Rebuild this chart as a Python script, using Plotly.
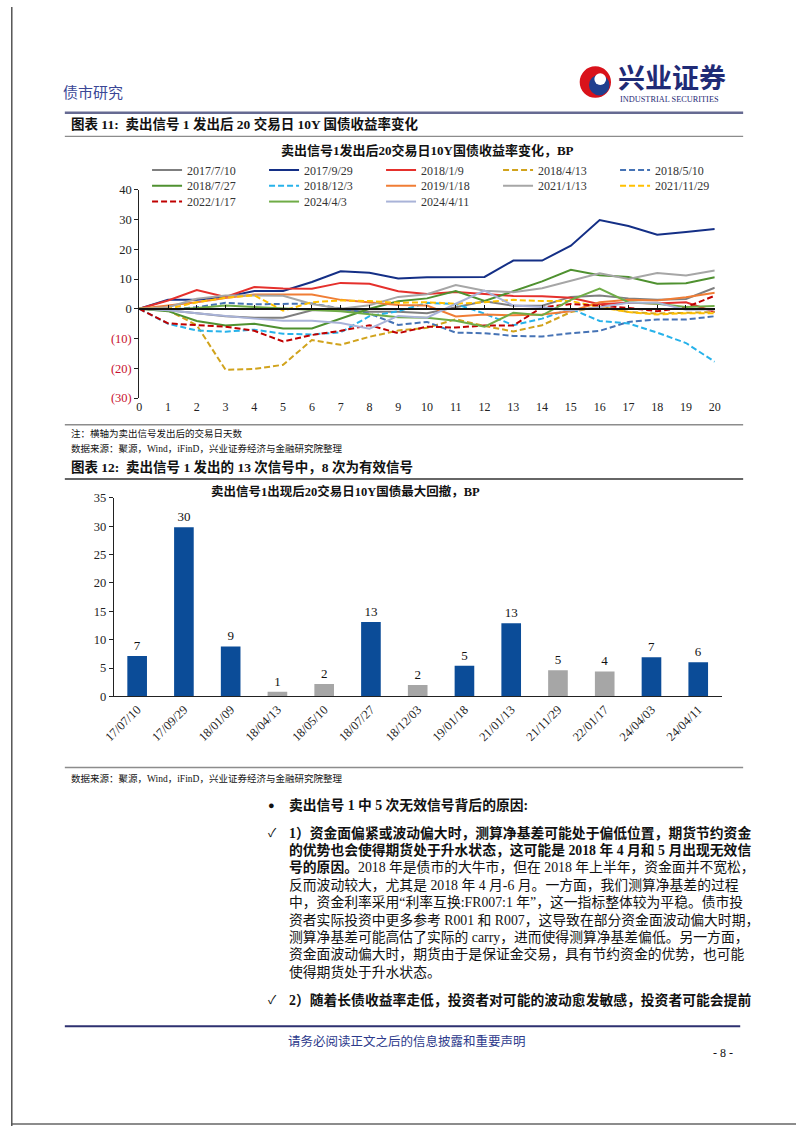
import plotly.graph_objects as go

W, H = 802, 1133


def px_x(x):
    return x / W


def px_y(y):
    return 1 - y / H


FONT = "Liberation Serif, Noto Sans CJK SC, serif"

# ---------------- line chart data ----------------
days = list(range(21))
s_2017_7_10 = [0, -0.5, -1.5, -2.5, -3.0, -3.0, -0.5, -0.5, -1.0, -1.0, -1.5, 0.5, 2.5, 1.0, 1.0, 4.0, 4.5, 3.5, 3.0, 3.3, 7.1]
s_2017_9_29 = [0, 3.0, 3.0, 4.0, 6.0, 6.0, 9.0, 12.6, 12.1, 10.2, 10.6, 10.7, 10.7, 16.2, 16.2, 21.2, 29.8, 27.8, 24.9, 25.8, 26.8]
s_2018_1_9 = [0, 2.8, 6.3, 4.0, 7.3, 6.8, 6.7, 8.7, 8.4, 5.9, 5.0, 5.6, 5.0, 4.3, 4.2, 3.7, 1.5, 2.0, 1.8, 2.2, -1.1]
s_2018_4_13 = [0, -0.5, -5.5, -20.5, -20.2, -18.8, -10.5, -12.1, -9.4, -7.3, -6.4, -3.5, -5.8, -7.6, -5.5, -1.1, 0.8, -1.1, -1.6, -1.3, -1.1]
s_2018_5_10 = [0, -0.3, 0.5, 2.0, 1.5, 1.6, 1.8, 0.1, -1.6, -5.4, -4.4, -8.0, -8.2, -9.1, -9.3, -8.2, -7.4, -4.4, -3.6, -3.6, -2.5]
s_2018_7_27 = [0, -0.8, -4.1, -5.6, -5.0, -6.6, -6.6, -3.3, 0.0, 2.5, 3.5, 6.0, 2.6, 5.9, 9.2, 13.1, 11.3, 10.7, 8.4, 8.6, 10.6]
s_2018_12_3 = [0, -5.0, -7.3, -7.7, -7.0, -8.4, -8.6, -7.9, -2.5, -0.8, 2.0, 1.6, -1.6, -5.5, -3.3, 0.0, -4.1, -4.9, -8.0, -11.5, -17.8]
s_2019_1_18 = [0, 1.1, 2.2, 3.6, 4.8, 4.8, 4.8, 3.0, 2.2, 1.3, 1.1, -2.6, -1.9, -2.2, -1.9, -0.8, 2.2, 3.0, 2.8, 3.9, 5.4]
s_2021_1_13 = [0, 0.5, 3.4, 4.5, 4.5, 4.4, 1.6, 0.0, 1.2, 4.0, 4.9, 8.0, 6.1, 5.6, 6.9, 9.5, 11.9, 10.0, 12.0, 11.2, 12.9]
s_2021_11_29 = [0, 0.0, 2.2, 3.7, 4.5, -0.6, 2.2, 2.8, 2.6, 2.0, 2.2, 1.7, 2.2, 3.0, 2.6, 2.6, 0.6, -1.1, -1.9, -1.5, -1.5]
s_2022_1_17 = [0, -4.9, -5.5, -6.0, -7.4, -11.0, -8.8, -7.4, -5.5, -8.2, -6.0, -6.3, -5.6, -5.6, 0.5, 1.6, 1.1, 0.3, -0.8, 0.5, 4.4]
s_2024_4_3 = [0, -0.3, 0.3, 1.1, 0.6, 0.2, -0.2, -0.8, -1.8, -2.8, -3.0, -4.0, -6.0, -1.3, -2.2, 3.0, 6.8, 2.2, 1.7, 0.6, 0.9]
s_2024_4_11 = [0, -0.5, -1.5, -2.5, -3.3, -4.0, -4.0, -4.8, -6.7, -2.4, -3.0, 1.7, 6.1, 1.1, 0.6, -0.6, 0.5, 2.0, 2.0, -0.3, -0.2]

series_names = ["2017/7/10", "2017/9/29", "2018/1/9", "2018/4/13", "2018/5/10",
                "2018/7/27", "2018/12/3", "2019/1/18", "2021/1/13", "2021/11/29",
                "2022/1/17", "2024/4/3", "2024/4/11"]
series_values = [s_2017_7_10, s_2017_9_29, s_2018_1_9, s_2018_4_13, s_2018_5_10,
                 s_2018_7_27, s_2018_12_3, s_2019_1_18, s_2021_1_13, s_2021_11_29,
                 s_2022_1_17, s_2024_4_3, s_2024_4_11]
series_colors = ["#7f7f7f", "#142f86", "#e5302c", "#d1a31c", "#4673b5",
                 "#4f9130", "#27b2ea", "#f07d35", "#a6a6a6", "#ffc000",
                 "#c00000", "#6fac46", "#a9b3d8"]
series_dash = ["solid", "solid", "solid", "6px,3px", "6px,3px",
               "solid", "6px,3px", "solid", "solid", "6px,3px",
               "6px,3px", "solid", "solid"]
legend_of = ["legend"] * 5 + ["legend2"] * 5 + ["legend3"] * 3

y_ticks = [40, 30, 20, 10, 0, -10, -20, -30]
y_ticktext = ["40", "30", "20", "10", "0",
              '<span style="color:#c8102e">(10)</span>',
              '<span style="color:#c8102e">(20)</span>',
              '<span style="color:#c8102e">(30)</span>']

# ---------------- bar chart data ----------------
bar_labels = ["17/07/10", "17/09/29", "18/01/09", "18/04/13", "18/05/10", "18/07/27",
              "18/12/03", "19/01/18", "21/01/13", "21/11/29", "22/01/17", "24/04/03", "24/04/11"]
drawdown = [7.1, 29.8, 8.8, 0.8, 2.2, 13.1, 2.0, 5.4, 12.9, 4.6, 4.4, 6.9, 6.0]
valid_signal = [True, True, True, False, False, True, False, True, True, False, False, True, True]

fig = go.Figure()

for name, vals, col, dsh, leg in zip(series_names, series_values, series_colors, series_dash, legend_of):
    fig.add_trace(go.Scatter(
        x=days, y=vals, mode="lines", name=name,
        line=dict(color=col, width=2, dash=dsh),
        legend=leg, xaxis="x", yaxis="y", hoverinfo="skip", cliponaxis=False))

# invisible trace that carries the zero-line axis
fig.add_trace(go.Scatter(x=[0], y=[0], xaxis="x3", yaxis="y", mode="markers",
                         marker=dict(opacity=0), showlegend=False, hoverinfo="skip"))

fig.add_trace(go.Bar(
    x=bar_labels, y=drawdown,
    marker=dict(color=["#0b4c98" if v else "#a6a6a6" for v in valid_signal], line=dict(width=0)),
    width=0.42, texttemplate="%{y:.0f}", textposition="outside",
    textfont=dict(family=FONT, size=13, color="#111"),
    cliponaxis=False, showlegend=False, xaxis="x2", yaxis="y2", hoverinfo="skip"))

# ---------------- geometry ----------------
ymin, ymax = -30, 40
yd0, yd1 = px_y(396), px_y(185)
zero_pos = yd0 + (0 - ymin) / (ymax - ymin) * (yd1 - yd0)

tickfont = dict(family=FONT, size=12.5, color="#222")

legend_common = dict(orientation="h", xanchor="left", yanchor="middle",
                     entrywidth=72, entrywidthmode="pixels",
                     font=dict(family=FONT, size=12, color="#333"),
                     bgcolor="rgba(0,0,0,0)", borderwidth=0, itemwidth=30,
                     traceorder="normal")

fig.update_layout(
    width=W, height=H, autosize=False,
    margin=dict(l=0, r=0, t=0, b=0),
    paper_bgcolor="white", plot_bgcolor="rgba(0,0,0,0)",
    font=dict(family=FONT, color="#222"),
    showlegend=True,
    legend=dict(x=px_x(139), y=px_y(165), **legend_common),
    legend2=dict(x=px_x(139), y=px_y(181), **legend_common),
    legend3=dict(x=px_x(139), y=px_y(197), **legend_common),
    xaxis=dict(domain=[px_x(131), px_x(719)], range=[0, 20], anchor="y",
               tickvals=days, showline=False, ticks="", showgrid=False, zeroline=False,
               tickfont=dict(family=FONT, size=12, color="#222")),
    yaxis=dict(domain=[yd0, yd1], range=[ymin, ymax], anchor="x",
               tickvals=y_ticks, ticktext=y_ticktext, showline=True, linecolor="#222",
               linewidth=1, ticks="outside", ticklen=4, tickcolor="#222",
               showgrid=False, zeroline=False, tickfont=tickfont),
    xaxis3=dict(overlaying="x", anchor="free", position=zero_pos, range=[0, 20],
                domain=[px_x(131), px_x(719)], dtick=1, tick0=0,
                showline=True, linecolor="#111", linewidth=1.5,
                ticks="inside", ticklen=3, tickcolor="#111",
                showticklabels=False, showgrid=False, zeroline=False),
    xaxis2=dict(domain=[px_x(105), px_x(726)], range=[-0.5, 12.5], anchor="y2",
                type="category", tickangle=-45, showline=True, linecolor="#222",
                linewidth=1.2, ticks="", showgrid=False, zeroline=False,
                tickfont=dict(family=FONT, size=12.5, color="#222")),
    yaxis2=dict(domain=[px_y(698), px_y(497)], range=[0, 35], anchor="x2",
                dtick=5, showline=True, linecolor="#222", linewidth=1.2,
                ticks="outside", ticklen=4, tickcolor="#222",
                showgrid=False, zeroline=False, tickfont=tickfont),
)

# ---------------- shapes (rules, logo, border) ----------------
def hline(y, x0, x1, color, width):
    fig.add_shape(type="line", xref="paper", yref="paper",
                  x0=px_x(x0), x1=px_x(x1), y0=px_y(y), y1=px_y(y),
                  line=dict(color=color, width=width))


hline(107, 55, 748, "#666a92", 2.5)
hline(131, 55, 748, "#8c8c8c", 1.2)
hline(423, 55, 748, "#8c8c8c", 1.5)
hline(478, 55, 748, "#333333", 1.5)
hline(770, 55, 748, "#8c8c8c", 1.5)
hline(1032, 55, 745, "#2e3170", 2)
hline(1131, 0, 802, "#8c8c8c", 2)
fig.add_shape(type="line", xref="paper", yref="paper", x0=px_x(0.8), x1=px_x(0.8),
              y0=0, y1=1, line=dict(color="#555", width=1.5))


def circle(cx, cy, r, color):
    fig.add_shape(type="circle", xref="paper", yref="paper",
                  x0=px_x(cx - r), x1=px_x(cx + r), y0=px_y(cy + r), y1=px_y(cy - r),
                  fillcolor=color, line=dict(width=0))


circle(597, 76, 16, "#d9121b")
circle(601, 79, 10.5, "#1f3f8f")
circle(602, 73, 6, "white")

# ---------------- annotations ----------------
def ann(text, x, y, size, color="#111", xanchor="left", family=FONT):
    fig.add_annotation(text=text, xref="paper", yref="paper", x=px_x(x), y=px_y(y),
                       xanchor=xanchor, yanchor="middle", showarrow=False,
                       font=dict(family=family, size=size, color=color), align="left",
                       borderpad=0)


ann("债市研究", 52, 87, 15, color="#3b4796")
ann("<b>兴业证券</b>", 619, 70, 27, color="#1f2b76", family="Noto Sans CJK SC")
ann("INDUSTRIAL SECURITIES", 621, 94, 8.3, color="#1f2b76")
ann("<b>图表 11:  卖出信号 1 发出后 20 交易日 10Y 国债收益率变化</b>", 60, 118, 13.5)
ann("<b>卖出信号1发出后20交易日10Y国债收益率变化，BP</b>", 426, 145, 13, xanchor="center")
ann("注：横轴为卖出信号发出后的交易日天数", 60, 432, 9.5)
ann("数据来源：聚源，Wind，iFinD，兴业证券经济与金融研究院整理", 60, 447, 9.5)
ann("<b>图表 12:  卖出信号 1 发出的 13 次信号中，8 次为有效信号</b>", 60, 466, 13.5)
ann("<b>卖出信号1出现后20交易日10Y国债最大回撤，BP</b>", 342, 491, 12.5, xanchor="center")
ann("数据来源：聚源，Wind，iFinD，兴业证券经济与金融研究院整理", 60, 781, 9.5)

ann("●", 262, 808, 11)
ann("<b>卖出信号 1 中 5 次无效信号背后的原因:</b>", 283, 808, 13.8)

body_lines = [
    "<b>1）资金面偏紧或波动偏大时，测算净基差可能处于偏低位置，期货节约资金</b>",
    "<b>的优势也会使得期货处于升水状态，这可能是 2018 年 4 月和 5 月出现无效信</b>",
    "<b>号的原因。</b>2018 年是债市的大牛市，但在 2018 年上半年，资金面并不宽松，",
    "反而波动较大，尤其是 2018 年 4 月-6 月。一方面，我们测算净基差的过程",
    "中，资金利率采用“利率互换:FR007:1 年”，这一指标整体较为平稳。债市投",
    "资者实际投资中更多参考 R001 和 R007，这导致在部分资金面波动偏大时期，",
    "测算净基差可能高估了实际的 carry，进而使得测算净基差偏低。另一方面，",
    "资金面波动偏大时，期货由于是保证金交易，具有节约资金的优势，也可能",
    "使得期货处于升水状态。",
]
ann("✓", 262, 836, 12)
for i, line in enumerate(body_lines):
    ann(line, 283, 836 + i * 17.6, 13.8)
ann("✓", 262, 1005, 12)
ann("<b>2）随着长债收益率走低，投资者对可能的波动愈发敏感，投资者可能会提前</b>", 283, 1005, 13.8)

ann("请务必阅读正文之后的信息披露和重要声明", 282, 1047, 12.5, color="#2d3a8c")
ann("- 8 -", 727, 1059, 12, xanchor="center")

fig.write_html("out.html")
